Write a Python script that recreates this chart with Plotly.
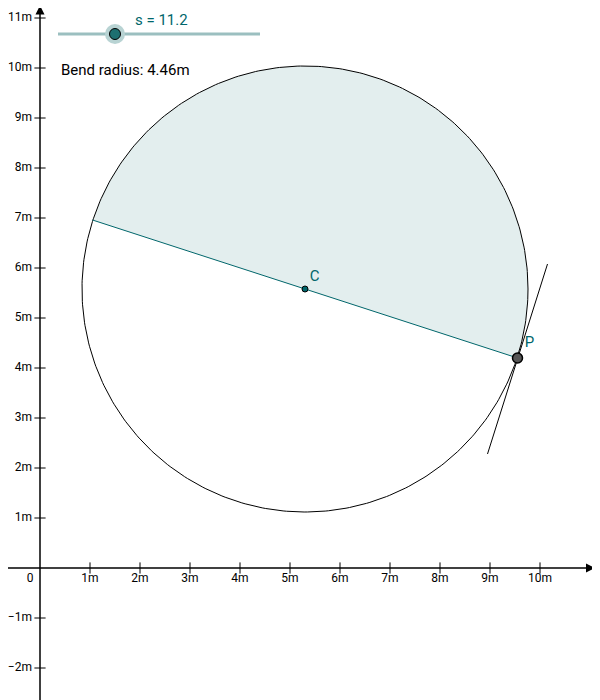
import numpy as np
import plotly.graph_objects as go

center = (5.3, 5.58)
radius = 4.46
point_p = (9.55, 4.2)
tangent_ends = ([8.95, 10.15], [2.28, 6.08])
s_value = 11.2
x_ticks = [1, 2, 3, 4, 5, 6, 7, 8, 9, 10]
y_ticks = [-2, -1, 1, 2, 3, 4, 5, 6, 7, 8, 9, 10, 11]

teal = "#00666b"
OFF = 8  # page body margin
def px(x): return (x - OFF) / 600
def py(y): return 1 - (y - OFF) / 700

fig = go.Figure()
cx, cy = center
ang_p = np.arctan2(point_p[1]-cy, point_p[0]-cx)
opp = (2*cx-point_p[0], 2*cy-point_p[1])
t = np.linspace(ang_p, ang_p+np.pi, 200)
fig.add_trace(go.Scatter(x=np.r_[cx+radius*np.cos(t), point_p[0]], y=np.r_[cy+radius*np.sin(t), point_p[1]],
    fill="toself", fillcolor="#e3eeee", line=dict(width=0), mode="lines"))
tt = np.linspace(0, 2*np.pi, 400)
fig.add_trace(go.Scatter(x=cx+radius*np.cos(tt), y=cy+radius*np.sin(tt), mode="lines", line=dict(color="black", width=1)))
fig.add_trace(go.Scatter(x=[point_p[0], opp[0]], y=[point_p[1], opp[1]], mode="lines", line=dict(color=teal, width=1)))
fig.add_trace(go.Scatter(x=tangent_ends[0], y=tangent_ends[1], mode="lines", line=dict(color="black", width=1)))
# axes
fig.add_trace(go.Scatter(x=[-0.8, 11.15], y=[0, 0], mode="lines", line=dict(color="black", width=1.5)))
fig.add_trace(go.Scatter(x=[0, 0], y=[-2.9, 11.3], mode="lines", line=dict(color="black", width=1.5)))
fig.add_trace(go.Scatter(x=[11.1], y=[0], mode="markers", marker=dict(symbol="arrow-right", size=9, color="black")))
fig.add_trace(go.Scatter(x=[0], y=[11.25], mode="markers", marker=dict(symbol="arrow-up", size=9, color="black")))
# ticks
fig.add_trace(go.Scatter(x=x_ticks, y=[0]*len(x_ticks), mode="markers", marker=dict(symbol="line-ns", size=8, line=dict(width=1, color="black"))))
fig.add_trace(go.Scatter(x=[0]*len(y_ticks), y=y_ticks, mode="markers", marker=dict(symbol="line-ew", size=8, line=dict(width=1, color="black"))))
fig.add_trace(go.Scatter(x=x_ticks, y=[-0.22]*len(x_ticks), mode="text", text=[f"{v}m" for v in x_ticks],
    textfont=dict(family="Roboto", size=12, color="black")))
fig.add_trace(go.Scatter(x=[-0.16]*len(y_ticks), y=y_ticks, mode="text", text=[f"{v}m".replace("-", "−") for v in y_ticks],
    textposition="middle left", textfont=dict(family="Roboto", size=12, color="black")))
fig.add_trace(go.Scatter(x=[-0.2], y=[-0.22], mode="text", text=["0"], textfont=dict(family="Roboto", size=12, color="black")))
# points
fig.add_trace(go.Scatter(x=[cx], y=[cy], mode="markers+text", text=["C"], textposition="top right",
    marker=dict(size=6, color=teal, line=dict(color="black", width=1)), textfont=dict(family="Roboto", size=15, color=teal)))
fig.add_trace(go.Scatter(x=[point_p[0]], y=[point_p[1]], mode="markers+text", text=["P"], textposition="top right",
    marker=dict(size=10, color="#555", line=dict(color="black", width=1.5)), textfont=dict(family="Roboto", size=15, color=teal)))
fig.add_annotation(x=px(59), y=py(70), xref="paper", yref="paper", text="Bend radius: 4.46m", showarrow=False,
    xanchor="left", yanchor="middle", font=dict(family="Roboto", size=15, color="black"))
# slider
fig.add_shape(type="line", xref="paper", yref="paper", x0=px(58), x1=px(260), y0=py(34), y1=py(34), line=dict(color="#9bbfc0", width=3))
fig.add_shape(type="circle", xref="paper", yref="paper", x0=px(105), x1=px(125), y0=py(44), y1=py(24), fillcolor="#b8d3d3", line=dict(width=0))
fig.add_shape(type="circle", xref="paper", yref="paper", x0=px(109.5), x1=px(120.5), y0=py(39.5), y1=py(28.5), fillcolor="#1d6f70", line=dict(color="black", width=1))
fig.add_annotation(x=px(133), y=py(9), xref="paper", yref="paper", text=f"s = {s_value}", showarrow=False,
    yanchor="top", font=dict(family="Roboto", size=15, color=teal))
fig.update_layout(width=600, height=700, margin=dict(l=0, r=0, t=0, b=0), showlegend=False,
    plot_bgcolor="white", paper_bgcolor="white",
    xaxis=dict(range=[-0.64, 11.36], visible=False), yaxis=dict(range=[-2.8, 11.2], visible=False))
fig.write_html("out.html")
